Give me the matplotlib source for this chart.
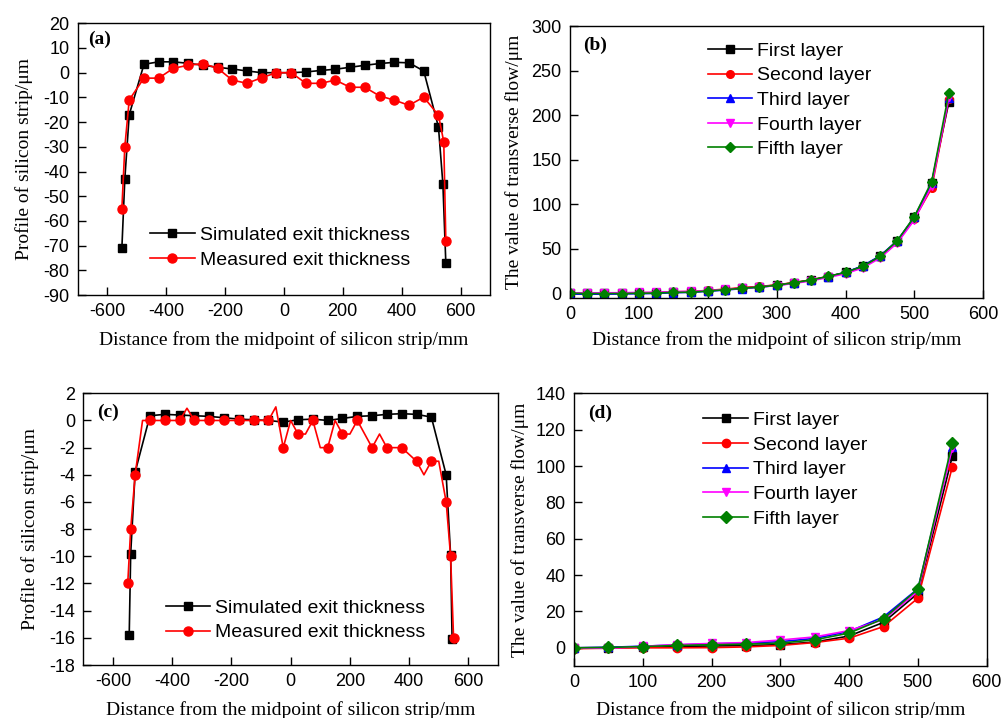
import matplotlib
matplotlib.use("Agg")
import matplotlib.pyplot as plt

# ---------------- data ----------------
# (a) exit thickness profile, first case
x_sim_a = [-550, -540, -525, -475, -425, -375, -325, -275, -225, -175, -125, -75, -25,
           25, 75, 125, 175, 225, 275, 325, 375, 425, 475, 525, 540, 550]
y_sim_a = [-71, -43, -17, 3.4, 4.4, 4.4, 3.8, 3.0, 2.2, 1.5, 0.7, 0.0, 0.0,
           0.0, 0.3, 0.9, 1.4, 2.2, 3.0, 3.7, 4.2, 4.0, 0.7, -22, -45, -77]
x_meas_a = [-550, -540, -525, -475, -425, -375, -325, -275, -225, -175, -125, -75, -25,
            25, 75, 125, 175, 225, 275, 325, 375, 425, 475, 525, 543, 550]
y_meas_a = [-55, -30, -11, -2.2, -2.2, 1.8, 3.0, 3.7, 1.8, -3.0, -4.3, -2.0, 0.0,
            0.0, -4.3, -4.3, -3.0, -5.9, -5.9, -9.4, -11.1, -13.2, -9.9, -17.2, -28, -68]

# (b) transverse flow, first case
x_flow_b = [0, 25, 50, 75, 100, 125, 150, 175, 200, 225, 250, 275, 300,
            325, 350, 375, 400, 425, 450, 475, 500, 525, 550]
b_first = [0, 0, 0, 0, 0.3, 0.6, 1.3, 1.7, 2.8, 4.2, 5.8, 7.3, 9.2,
           11.8, 14.8, 18.8, 23.4, 30.4, 41.5, 58.5, 85.5, 123.5, 215]
b_second = [0, 0, 0, 0.2, 0.5, 0.8, 1.6, 2.0, 3.2, 4.6, 6.4, 7.6, 9.4,
            12.0, 15.0, 19.0, 23.0, 29.8, 40.5, 57.5, 84.0, 118.0, 218]
b_third = [-1, -1, -1, -0.8, -0.5, -0.2, 0.6, 1.0, 2.2, 3.6, 5.2, 6.8, 8.8,
           11.4, 14.6, 18.6, 23.5, 30.8, 42.0, 59.0, 85.5, 124.0, 220]
b_fourth = [0.5, 0.5, 0.5, 0.6, 0.9, 1.1, 1.8, 2.1, 3.0, 4.3, 5.8, 7.0, 8.6,
            11.0, 14.0, 17.8, 22.0, 28.5, 39.5, 56.5, 82.5, 120.5, 221]
b_fifth = [0, -0.3, -0.3, -0.3, 0, 0.2, 1.0, 1.2, 2.5, 4.0, 5.6, 7.0, 9.0,
           11.8, 15.0, 19.0, 23.5, 30.2, 41.4, 59.0, 86.3, 125.5, 225.3]

# (c) exit thickness profile, second case
x_sim_c = [-545, -540, -525, -475, -425, -375, -325, -275, -225, -175, -125, -75, -25,
           25, 75, 125, 175, 225, 275, 325, 375, 425, 475, 525, 540, 545]
y_sim_c = [-15.8, -9.8, -3.8, 0.35, 0.45, 0.4, 0.35, 0.3, 0.2, 0.1, 0.05, 0.0, -0.12,
           0.05, 0.1, 0.0, 0.15, 0.3, 0.35, 0.45, 0.5, 0.45, 0.25, -4.0, -9.9, -16.1]
x_meas_c = [-550, -540, -525,
            -500, -475, -450, -425, -400, -375, -350, -325, -300, -275, -250, -225,
            -200, -175, -150, -125, -100, -75, -50, -25, 0, 25, 50, 75, 100, 125,
            150, 175, 200, 225, 250, 275, 300, 325, 350, 375, 400, 425, 450, 475, 500,
            525, 540, 550]
y_meas_c = [-12, -8, -4,
            0, 0, 0, 0, 0, 0, 0.9, 0, 0, 0, 0, 0,
            0, 0, 0, 0, 0, 0, 1.0, -2, 0, -1, -1, 0, -2, -2,
            0, -1, -1, 0, -1, -2, -1, -2, -2, -2, -2.5, -3, -4, -3, -3,
            -6, -10, -16]
# measured points that carry a marker (every 50 mm plus the edges)
marked_c = [0, 1, 2] + list(range(4, 43, 2)) + [44, 45, 46]

# (d) transverse flow, second case
x_flow_d = [0, 50, 100, 150, 200, 250, 300, 350, 400, 450, 500, 550]
d_first = [0, 0.1, 0.4, 0.8, 1.0, 1.2, 1.8, 3.2, 6.5, 14.0, 30.0, 105.3]
d_second = [-0.5, -0.2, 0.0, 0.0, 0.1, 0.5, 1.3, 2.9, 5.3, 11.7, 27.3, 99.5]
d_third = [0, 0.3, 0.9, 1.6, 2.2, 2.6, 3.4, 5.2, 9.0, 17.0, 32.5, 110.3]
d_fourth = [0, -0.3, 0.8, 1.8, 2.4, 2.9, 4.3, 6.0, 9.5, 15.5, 31.0, 110.0]
d_fifth = [0, 0.2, 0.7, 1.3, 1.7, 2.0, 2.6, 4.4, 8.1, 16.0, 32.3, 112.7]

layer_names = ["First layer", "Second layer", "Third layer", "Fourth layer", "Fifth layer"]
layer_colors = ["#000000", "#ff0000", "#0000ff", "#ff00ff", "#008000"]
layer_markers = ["s", "o", "^", "v", "D"]

xlabel_text = "Distance from the midpoint of silicon strip/mm"
ylabel_profile = "Profile of silicon strip/\u03bcm"
ylabel_flow = "The value of transverse flow/\u03bcm"

# ---------------- styling ----------------
W, H = 1003, 718
SANS = "Liberation Sans"
SERIF = "Liberation Serif"
plt.rcParams["font.family"] = [SANS, "DejaVu Sans"]
plt.rcParams["axes.unicode_minus"] = False

fig = plt.figure(figsize=(W / 100, H / 100), dpi=100)


def px_axes(left, top, right, bottom):
    return fig.add_axes([left / W, 1 - bottom / H, (right - left) / W, (bottom - top) / H])


def style_axes(ax, box, ylab_right_px, xlab_top_px, letter, letter_xy):
    left, top, right, bottom = box
    for sp in ax.spines.values():
        sp.set_linewidth(1.0)
    ax.tick_params(direction="in", length=6, width=1.0, labelsize=13,
                   top=False, right=False)
    ax.tick_params(axis="y", pad=6)
    ax.tick_params(axis="x", pad=6)
    for lab in ax.get_xticklabels() + ax.get_yticklabels():
        lab.set_family([SANS, "DejaVu Sans"])
    ax.xaxis.label.set_family([SERIF, "DejaVu Serif"])
    ax.yaxis.label.set_family([SERIF, "DejaVu Serif"])
    ax.xaxis.label.set_size(14)
    ax.yaxis.label.set_size(14)
    # axis-label placement in figure pixels
    ax.yaxis.set_label_coords(ylab_right_px / W, 1 - (top + bottom) / 2 / H,
                              transform=fig.transFigure)
    ax.xaxis.set_label_coords((left + right) / 2 / W, 1 - xlab_top_px / H,
                              transform=fig.transFigure)
    fig.text(letter_xy[0] / W, 1 - letter_xy[1] / H, letter, family=[SERIF, "DejaVu Serif"],
             fontsize=14, fontweight="bold", ha="left", va="center")


def place_legend(ax, handle_left_px, first_row_center_px, **kw):
    leg = ax.legend(loc="upper left",
                    bbox_to_anchor=(handle_left_px / W, 1 - (first_row_center_px - 8.5) / H),
                    bbox_transform=fig.transFigure, frameon=False, fontsize=14,
                    borderpad=0, borderaxespad=0, handlelength=2.3, handletextpad=0.25,
                    labelspacing=0.36, **kw)
    for t in leg.get_texts():
        t.set_family([SANS, "DejaVu Sans"])
    return leg


# ---------------- (a) ----------------
box_a = (77.7, 23.3, 490, 295)
ax = px_axes(*box_a)
ax.plot(x_sim_a, y_sim_a, color="black", lw=1.2, marker="s", ms=5.5,
        label="Simulated exit thickness")
ax.plot(x_meas_a, y_meas_a, color="red", lw=1.2, marker="o", ms=6.5,
        label="Measured exit thickness")
ax.set_xlim(-700, 700)
ax.set_ylim(-90, 20)
ax.set_xticks(range(-600, 601, 200))
ax.set_yticks(range(-90, 21, 10))
ax.set_xlabel(xlabel_text)
ax.set_ylabel(ylabel_profile)
style_axes(ax, box_a, 33, 331, "(a)", (88, 39))
place_legend(ax, 150, 235)

# ---------------- (b) ----------------
box_b = (570, 26.5, 983.3, 297.7)
ax = px_axes(*box_b)
for ys, name, col, mk in zip([b_first, b_second, b_third, b_fourth, b_fifth],
                             layer_names, layer_colors, layer_markers):
    ax.plot(x_flow_b, ys, color=col, lw=1.2, marker=mk, ms=5.5, label=name)
ax.set_xlim(0, 600)
ax.set_ylim(-5, 300)
ax.set_xticks(range(0, 601, 100))
ax.set_yticks(range(0, 301, 50))
ax.set_xlabel(xlabel_text)
ax.set_ylabel(ylabel_flow)
style_axes(ax, box_b, 523, 331, "(b)", (583, 45))
place_legend(ax, 707.7, 50.7)

# ---------------- (c) ----------------
box_c = (83.3, 393.3, 498, 665)
ax = px_axes(*box_c)
ax.plot(x_sim_c, y_sim_c, color="black", lw=1.2, marker="s", ms=5.5,
        label="Simulated exit thickness")
ax.plot(x_meas_c, y_meas_c, color="red", lw=1.2, marker="o", ms=6.5,
        markevery=marked_c, label="Measured exit thickness")
ax.set_xlim(-700, 700)
ax.set_ylim(-18, 2)
ax.set_xticks(range(-600, 601, 200))
ax.set_yticks(range(-18, 3, 2))
ax.set_xlabel(xlabel_text)
ax.set_ylabel(ylabel_profile)
style_axes(ax, box_c, 39, 701, "(c)", (97, 412))
place_legend(ax, 165.7, 607.7)

# ---------------- (d) ----------------
box_d = (574, 393.3, 986.7, 666)
ax = px_axes(*box_d)
for ys, name, col, mk in zip([d_first, d_second, d_third, d_fourth, d_fifth],
                             layer_names, layer_colors, layer_markers):
    ax.plot(x_flow_d, ys, color=col, lw=1.2, marker=mk, ms=6, label=name)
ax.set_xlim(0, 600)
ax.set_ylim(-10, 140)
ax.set_xticks(range(0, 601, 100))
ax.set_yticks(range(0, 141, 20))
ax.set_xlabel(xlabel_text)
ax.set_ylabel(ylabel_flow)
style_axes(ax, box_d, 529, 701, "(d)", (588, 413))
place_legend(ax, 703.3, 420)

fig.savefig("out.png", dpi=100)
